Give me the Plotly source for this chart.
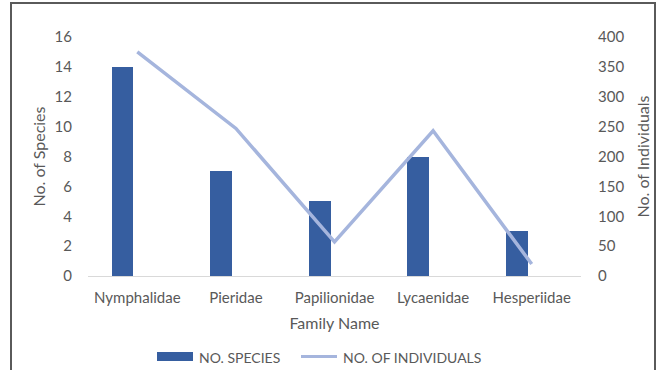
import plotly.graph_objects as go

families = ["Nymphalidae", "Pieridae", "Papilionidae", "Lycaenidae", "Hesperiidae"]
species = [14, 7, 5, 8, 3]
individuals = [375, 247, 57, 243, 20]

left_ticks = [0, 2, 4, 6, 8, 10, 12, 14, 16]
right_ticks = [0, 50, 100, 150, 200, 250, 300, 350, 400]

BAR = "#365EA0"
LINE = "#A5B5DD"
TXT = "#595959"
FONT = "Lato"
TICK_SIZE = 15
TITLE_SIZE = 16
LEG_SIZE = 14

# plot area in pixels (for placing the legend and frame in paper units)
L, R, T, B = 88, 581, 37, 276
W, H = R - L, B - T


def px(x):
    return (x - L) / W


def py(y):
    return (B - y) / H


fig = go.Figure()
fig.add_trace(go.Bar(
    x=families, y=species, name="NO. SPECIES",
    marker=dict(color=BAR, line=dict(width=0)),
    width=0.22, offset=-0.26, showlegend=False,
))
fig.add_trace(go.Scatter(
    x=families, y=individuals, name="NO. OF INDIVIDUALS",
    mode="lines", line=dict(color=LINE, width=3.5),
    yaxis="y2", showlegend=False,
))

# legend drawn as swatches + text
shapes = [
    dict(type="rect", xref="paper", yref="paper",
         x0=px(157), x1=px(193), y0=py(361), y1=py(352),
         fillcolor=BAR, line=dict(width=0)),
    dict(type="line", xref="paper", yref="paper",
         x0=px(301), x1=px(337), y0=py(356.5), y1=py(356.5),
         line=dict(color=LINE, width=3)),
    # outer frame
    dict(type="rect", xref="paper", yref="paper",
         x0=px(11), x1=px(655), y0=py(390), y1=py(3),
         line=dict(color="#5a5a5a", width=2), fillcolor="rgba(0,0,0,0)"),
]
annotations = [
    dict(text="NO. SPECIES", xref="paper", yref="paper", x=px(197), y=py(357),
         xanchor="left", yanchor="middle", showarrow=False,
         font=dict(family=FONT, size=LEG_SIZE, color=TXT)),
    dict(text="NO. OF INDIVIDUALS", xref="paper", yref="paper", x=px(341), y=py(357),
         xanchor="left", yanchor="middle", showarrow=False,
         font=dict(family=FONT, size=LEG_SIZE, color=TXT)),
]

fig.update_layout(
    width=660, height=370,
    margin=dict(l=L, r=660 - R, t=T, b=370 - B, autoexpand=False),
    paper_bgcolor="white", plot_bgcolor="white",
    font=dict(family=FONT, size=TICK_SIZE, color=TXT),
    bargap=0.0,
    shapes=shapes, annotations=annotations,
    xaxis=dict(
        showgrid=False, showline=True, linecolor="#D9D9D9", linewidth=1,
        ticks="", ticklabelstandoff=8,
        tickfont=dict(family=FONT, size=TICK_SIZE, color=TXT),
        title=dict(text="Family Name", standoff=12,
                   font=dict(family=FONT, size=TITLE_SIZE, color=TXT)),
        automargin=False,
    ),
    yaxis=dict(
        range=[0, 16], tickvals=left_ticks, showgrid=False, zeroline=False,
        showline=False, ticks="", ticklabelstandoff=15,
        tickfont=dict(family=FONT, size=TICK_SIZE, color=TXT),
        title=dict(text="No. of Species", standoff=4,
                   font=dict(family=FONT, size=TITLE_SIZE, color=TXT)),
        automargin=False,
    ),
    yaxis2=dict(
        range=[0, 400], tickvals=right_ticks, overlaying="y", side="right",
        showgrid=False, zeroline=False, showline=False, ticks="",
        ticklabelstandoff=16,
        tickfont=dict(family=FONT, size=TICK_SIZE, color=TXT),
        title=dict(text="No. of Individuals", standoff=14,
                   font=dict(family=FONT, size=TITLE_SIZE, color=TXT)),
        automargin=False,
    ),
)

fig.write_html("out.html")
